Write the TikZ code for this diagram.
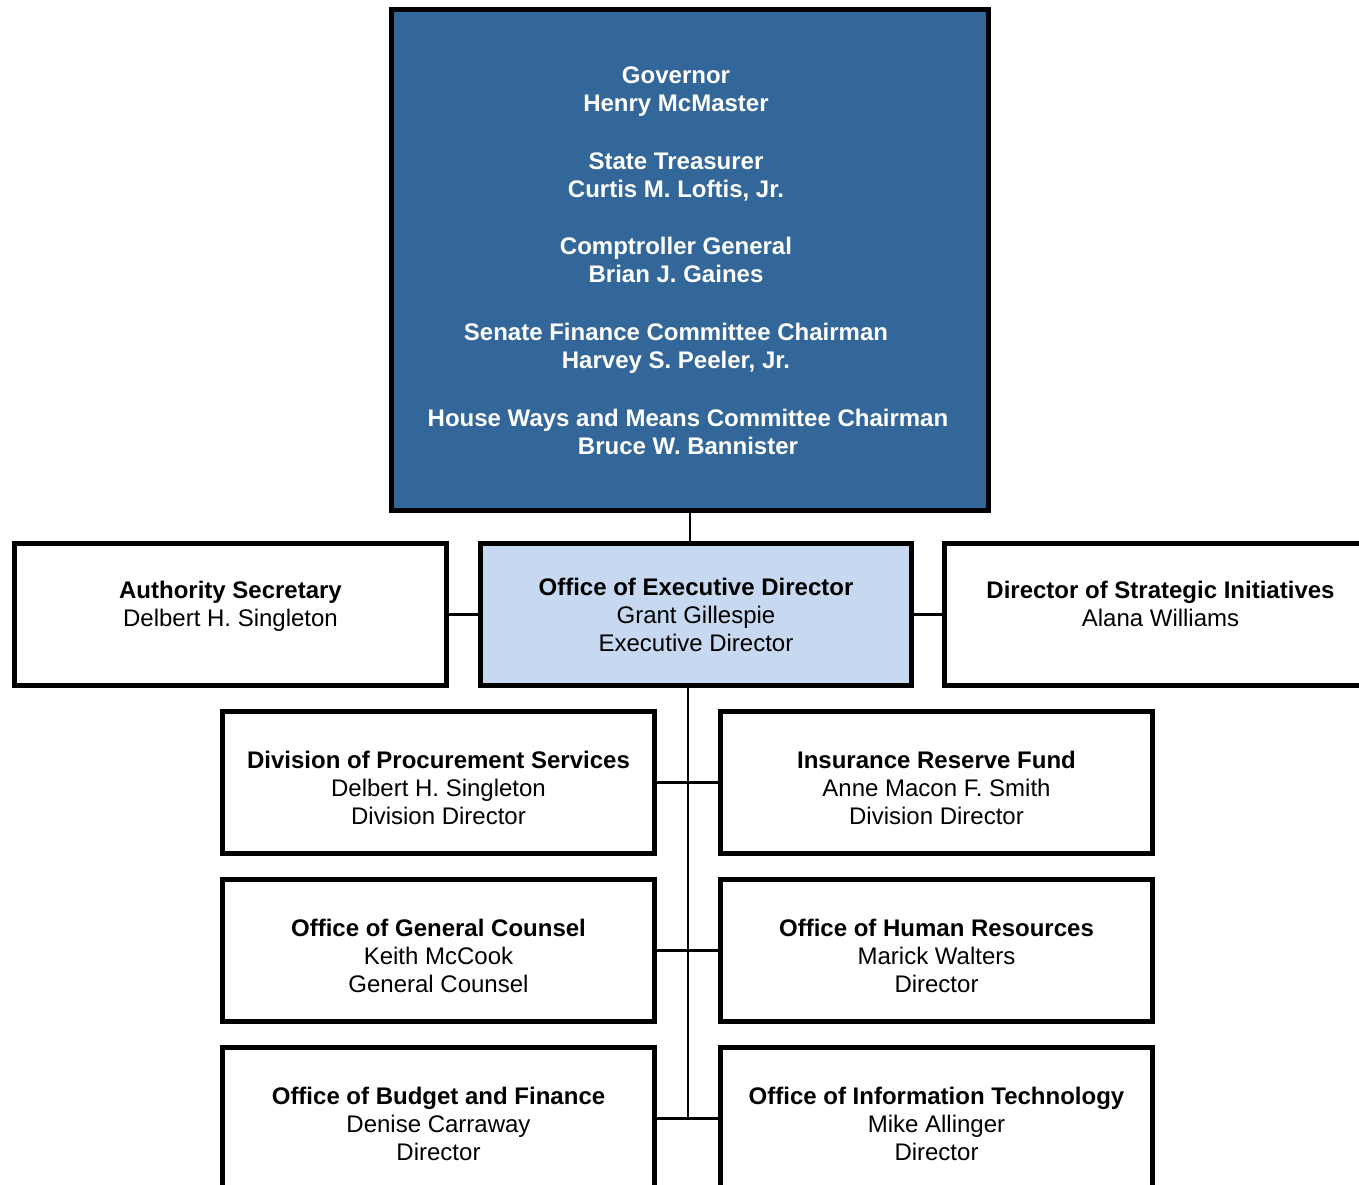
\documentclass[tikz,border=0pt]{standalone}
\usepackage{fontspec}
\setmainfont{Liberation Sans}
\usetikzlibrary{positioning,calc}
\definecolor{boarddark}{RGB}{51,102,153}
\definecolor{execlight}{RGB}{198,217,241}
\newcommand{\padtop}{\rule{0pt}{28pt}}
\tikzset{
  orgbox/.style={draw,line width=5pt,fill=white,minimum width=432pt,
    minimum height=142pt,align=center,inner sep=0pt,
    font=\fontsize{24}{28}\selectfont},
  sidebox/.style={orgbox,execute at end node={\rule[-22pt]{0pt}{22pt}}},
  boardtext/.style={text=white,align=center,inner sep=0pt,
    font=\bfseries\fontsize{24}{28}\selectfont},
  link/.style={line width=2.5pt}
}
\begin{document}
\begin{tikzpicture}[x=1pt,y=-1pt]
    \useasboundingbox (0,0) rectangle (1359,1184);

    % board
    \node[draw,line width=5pt,fill=boarddark,minimum width=597pt,
      minimum height=501pt] (board) at (690,260) {};
    \node[boardtext] (gov) at (676,92) {Governor\\Henry McMaster};
    \node[boardtext] (treas) at (676,177) {State Treasurer\\Curtis M. Loftis, Jr.};
    \node[boardtext] (comp) at (676,260) {Comptroller General\\Brian J. Gaines};
    \node[boardtext] (senate) at (676,348.5) {Senate Finance Committee Chairman\\Harvey S. Peeler, Jr.};
    \node[boardtext] (house) at (688,432) {House Ways and Means Committee Chairman\\Bruce W. Bannister};

    % second level
    \node[orgbox,fill=execlight,minimum width=431pt] (exec) at (696,614.5)
      {\textbf{Office of Executive Director}\\Grant Gillespie\\Executive Director};
    \node[sidebox] (secr) at (230.5,614.5)
      {\textbf{Authority Secretary}\\Delbert H. Singleton};
    \node[sidebox] (strat) at (1160.5,614.5)
      {\textbf{Director of Strategic Initiatives}\\Alana Williams};

    % divisions and offices
    \node[orgbox] (procure) at (438.5,782.5)
      {\padtop\textbf{Division of Procurement Services}\\Delbert H. Singleton\\Division Director};
    \node[orgbox] (insur) at (936.5,782.5)
      {\padtop\textbf{Insurance Reserve Fund}\\Anne Macon F. Smith\\Division Director};
    \node[orgbox] (counsel) at (438.5,950.5)
      {\padtop\textbf{Office of General Counsel}\\Keith McCook\\General Counsel};
    \node[orgbox] (hr) at (936.5,950.5)
      {\padtop\textbf{Office of Human Resources}\\Marick Walters\\Director};
    \node[orgbox] (budget) at (438.5,1118.5)
      {\padtop\textbf{Office of Budget and Finance}\\Denise Carraway\\Director};
    \node[orgbox] (infotech) at (936.5,1118.5)
      {\padtop\textbf{Office of Information Technology}\\Mike Allinger\\Director};

    \coordinate (trunk) at ([xshift=-8pt]exec.south);

    \draw[link] (board.south) -- (board.south |- exec.north);
    \draw[link] (secr.east) -- (exec.west);
    \draw[link] (exec.east) -- (strat.west);
    \draw[link] (trunk) -- (trunk |- budget.east);
    \draw[link] (procure.east) -- (insur.west);
    \draw[link] (counsel.east) -- (hr.west);
    \draw[link] (budget.east) -- (infotech.west);
\end{tikzpicture}
\end{document}
